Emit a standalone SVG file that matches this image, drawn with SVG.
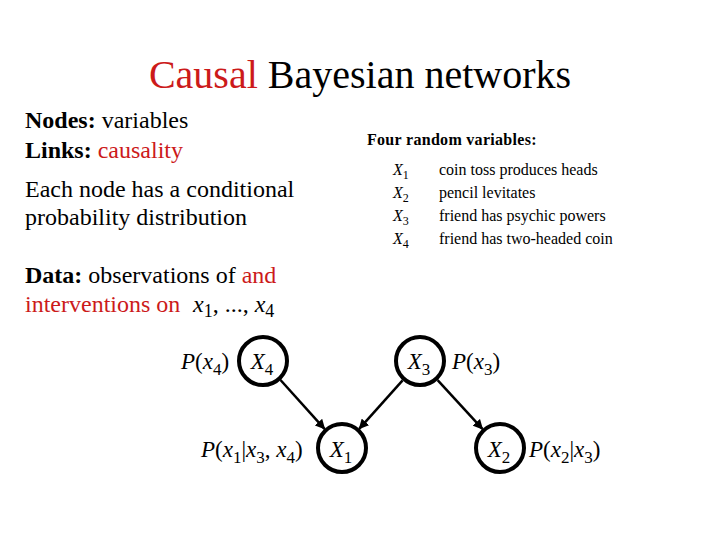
<svg xmlns="http://www.w3.org/2000/svg" width="720" height="540" viewBox="0 0 720 540" font-family="'Liberation Serif', 'Times New Roman', Times, serif">
<style>
text{font-family:"Liberation Serif","Times New Roman",Times,serif}
.red{fill:#cc1a1a}
.b{font-weight:bold}
.i{font-style:italic}
.body{font-size:24px}
.small{font-size:16px}
.lab{font-size:23px}
.node circle{fill:#fff;stroke:#000;stroke-width:4}
.edges line{stroke:#000;stroke-width:2.5}
</style>
<defs>
<marker id="ah" viewBox="0 0 10 10" refX="9" refY="5" markerWidth="4" markerHeight="4" orient="auto" markerUnits="strokeWidth">
<path d="M0,0 L10,5 L0,10 z" fill="#000"/>
</marker>
</defs>
<rect width="720" height="540" fill="#fff"/>
<text x="360" y="88" font-size="40" text-anchor="middle"><tspan class="red">Causal</tspan> Bayesian networks</text>
<g id="left-text" class="body">
<text x="25" y="128"><tspan class="b">Nodes:</tspan> variables</text>
<text x="25" y="158"><tspan class="b">Links:</tspan> <tspan class="red">causality</tspan></text>
<text x="25" y="197">Each node has a conditional</text>
<text x="25" y="225">probability distribution</text>
<text x="25" y="283"><tspan class="b">Data:</tspan> observations of <tspan class="red">and</tspan></text>
<text x="25" y="312"><tspan class="red">interventions on</tspan><tspan x="193" class="i">x</tspan><tspan font-size="18" dy="5">1</tspan><tspan dy="-5">, ..., </tspan><tspan class="i">x</tspan><tspan font-size="18" dy="5">4</tspan></text>
</g>
<g id="var-list" class="small">
<text x="367" y="145" class="b" letter-spacing="0.3">Four random variables:</text>
<text x="393" y="175"><tspan class="i">X</tspan><tspan font-size="12" dy="4">1</tspan></text>
<text x="393" y="198"><tspan class="i">X</tspan><tspan font-size="12" dy="4">2</tspan></text>
<text x="393" y="221"><tspan class="i">X</tspan><tspan font-size="12" dy="4">3</tspan></text>
<text x="393" y="244"><tspan class="i">X</tspan><tspan font-size="12" dy="4">4</tspan></text>
<text x="439" y="175">coin toss produces heads</text>
<text x="439" y="198">pencil levitates</text>
<text x="439" y="221">friend has psychic powers</text>
<text x="439" y="244">friend has two-headed coin</text>
</g>
<g id="edges" class="edges">
<line x1="280.5" y1="380" x2="324.5" y2="428.8" marker-end="url(#ah)"/>
<line x1="402.6" y1="380.4" x2="359.4" y2="428.6" marker-end="url(#ah)"/>
<line x1="437.6" y1="380.1" x2="482.4" y2="428.9" marker-end="url(#ah)"/>
</g>
<g id="X4" class="node">
<circle cx="263" cy="361" r="24"/>
<text x="262" y="369" class="lab" text-anchor="middle"><tspan class="i">X</tspan><tspan font-size="17" dy="6">4</tspan></text>
<text x="181" y="369" class="lab"><tspan class="i">P</tspan>(<tspan class="i">x</tspan><tspan font-size="17" dy="6">4</tspan><tspan dy="-6">)</tspan></text>
</g>
<g id="X3" class="node">
<circle cx="420" cy="361" r="24"/>
<text x="419" y="369" class="lab" text-anchor="middle"><tspan class="i">X</tspan><tspan font-size="17" dy="6">3</tspan></text>
<text x="452" y="369" class="lab"><tspan class="i">P</tspan>(<tspan class="i">x</tspan><tspan font-size="17" dy="6">3</tspan><tspan dy="-6">)</tspan></text>
</g>
<g id="X1" class="node">
<circle cx="342" cy="448" r="24"/>
<text x="341" y="457" class="lab" text-anchor="middle"><tspan class="i">X</tspan><tspan font-size="17" dy="6">1</tspan></text>
<text x="201" y="457" class="lab"><tspan class="i">P</tspan>(<tspan class="i">x</tspan><tspan font-size="17" dy="6">1</tspan><tspan dy="-6">|</tspan><tspan class="i">x</tspan><tspan font-size="17" dy="6">3</tspan><tspan dy="-6">, </tspan><tspan class="i">x</tspan><tspan font-size="17" dy="6">4</tspan><tspan dy="-6">)</tspan></text>
</g>
<g id="X2" class="node">
<circle cx="500" cy="448" r="24"/>
<text x="499" y="457" class="lab" text-anchor="middle"><tspan class="i">X</tspan><tspan font-size="17" dy="6">2</tspan></text>
<text x="529" y="457" class="lab"><tspan class="i">P</tspan>(<tspan class="i">x</tspan><tspan font-size="17" dy="6">2</tspan><tspan dy="-6">|</tspan><tspan class="i">x</tspan><tspan font-size="17" dy="6">3</tspan><tspan dy="-6">)</tspan></text>
</g>
</svg>
